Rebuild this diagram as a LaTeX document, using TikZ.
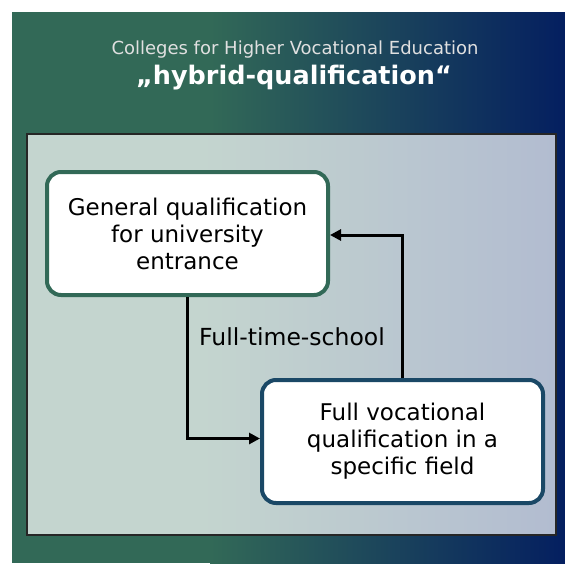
\documentclass[tikz,border=0pt]{standalone}
\usepackage{fontspec}
\setmainfont{DejaVu Sans}
\usetikzlibrary{arrows.meta}

\definecolor{hvgreen}{RGB}{50,105,87}
\definecolor{hvnavy}{RGB}{4,31,96}
\definecolor{hvpale}{RGB}{196,213,207}
\definecolor{hvblue}{RGB}{178,188,208}
\definecolor{hvframe}{RGB}{26,72,102}

\begin{document}
\begin{tikzpicture}[
    x = 1pt, y = -1pt,
    qualbox/.style = {draw, line width = 4pt, fill = white, rounded corners = 14pt,
                      align = center, font = \fontsize{23}{27}\selectfont,
                      minimum width = 281pt, minimum height = 123pt, inner sep = 0pt},
    flow/.style = {line width = 3pt, -{Triangle[length = 11pt, width = 11pt]}}]

\useasboundingbox (0,0) rectangle (565,563);
% dark background, green fading into navy
\fill[hvgreen] (12,12) rectangle (211,563);
\shade[left color = hvgreen, right color = hvnavy] (210,12) rectangle (565,563);
% light panel
\fill[hvpale] (27,134) rectangle (201,535);
\shade[left color = hvpale, right color = hvblue] (200,134) rectangle (556,535);
\draw[black!85, line width = 1.5pt] (27,134) rectangle (556,535);

\node[text = white!88!black, font = \fontsize{18}{21}\selectfont] (subtitle) at (295,50) {Colleges for Higher Vocational Education};
\node[text = white, font = \fontsize{25.5}{30}\selectfont\bfseries] (title) at (294,78) {„hybrid-qualification“};

\node[qualbox, draw = hvgreen] (general) at (187.5,233.5) {General qualification\\for university\\entrance};
\node[qualbox, draw = hvframe] (vocational) at (402.5,441.5) {Full vocational\\qualification in a\\specific field};
\node[font = \fontsize{23.5}{28}\selectfont] (school) at (292,337) {Full-time-school};

\draw[flow] (general.south) |- ([yshift = 3pt]vocational.west);
\draw[flow] (vocational.north) |- ([yshift = -1.5pt]general.east);
\end{tikzpicture}
\end{document}
